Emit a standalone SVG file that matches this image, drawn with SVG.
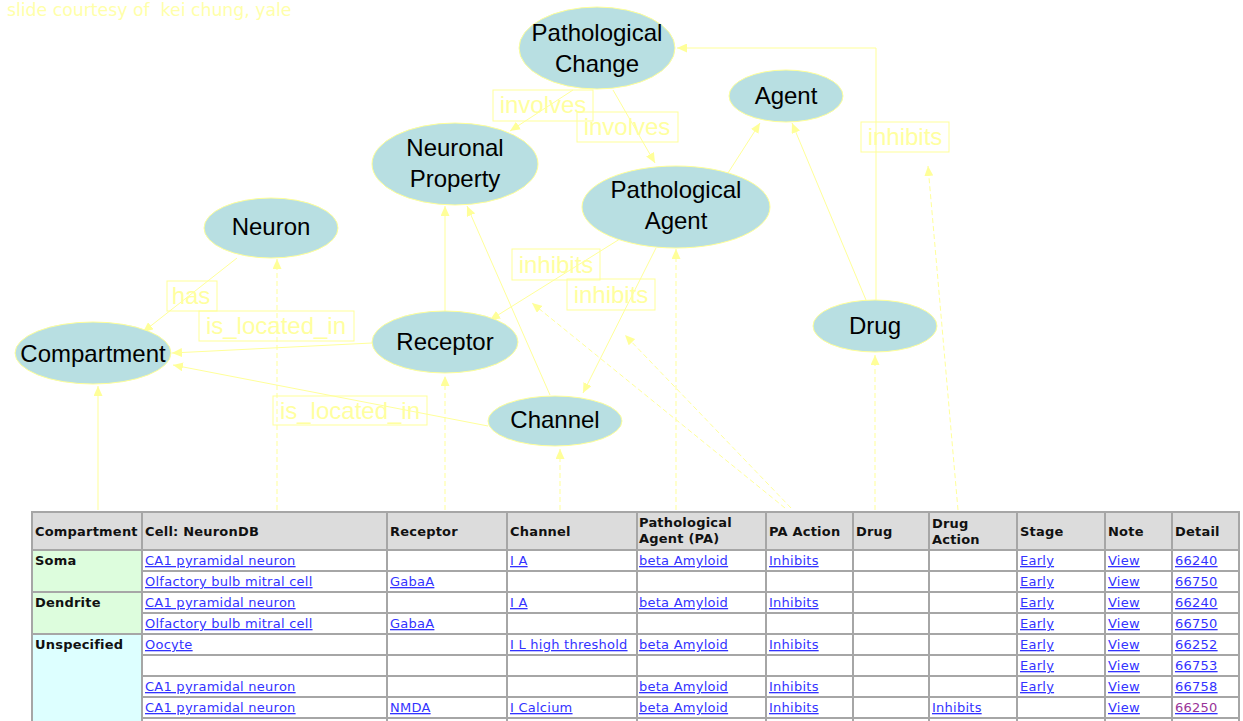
<svg xmlns="http://www.w3.org/2000/svg" width="1243" height="721" viewBox="0 0 1243 721">
<style>
.node ellipse{fill:#b8dfe2;stroke:#ffff99;stroke-width:1}
.node text{font-family:"Liberation Sans",Arial,sans-serif;font-size:24px;fill:#000;text-anchor:middle}
.edge{fill:none;stroke:#ffff99;stroke-width:1}
.dash{stroke-dasharray:5,3}
.lbl rect{fill:none;stroke:#ffff99;stroke-width:1}
.lbl text{font-family:"Liberation Sans",Arial,sans-serif;font-size:24px;fill:#ffffa0;text-anchor:middle}
.th{font-family:"DejaVu Sans",Verdana,sans-serif;font-size:13px;font-weight:bold;fill:#111;letter-spacing:0.2px}
.td{font-family:"DejaVu Sans",Verdana,sans-serif;font-size:13px;fill:#3333ff;text-decoration:underline;letter-spacing:0.25px}
.tv{fill:#993399}
.grid line{stroke:#a6a6a6;stroke-width:2}
</style>
<defs>
<marker id="arr" markerUnits="userSpaceOnUse" markerWidth="10" markerHeight="9" refX="10" refY="4.5" orient="auto">
<path d="M0,0 L10,4.5 L0,9 z" fill="#ffff99"/>
</marker>
</defs>
<rect width="1243" height="721" fill="#fff"/>
<text x="7" y="16" xml:space="preserve" style="font-family:'DejaVu Sans',Verdana,sans-serif;font-size:17.3px;fill:#ffffaa">slide courtesy of  kei chung, yale</text>

<g id="connectors">
<path class="edge" d="M573,90 L510,131" marker-end="url(#arr)"/>
<path class="edge" d="M613,90 L655,163" marker-end="url(#arr)"/>
<path class="edge" d="M876,300 L876,48 L677,48" marker-end="url(#arr)"/>
<path class="edge" d="M728,173 L760,123" marker-end="url(#arr)"/>
<path class="edge" d="M866,300 L792,123" marker-end="url(#arr)"/>
<path class="edge dash" d="M958,510 L928,166" marker-end="url(#arr)"/>
<path class="edge" d="M237,258 L143,332" marker-end="url(#arr)"/>
<path class="edge dash" d="M277,510 L277,259" marker-end="url(#arr)"/>
<path class="edge" d="M372,343 L172,353" marker-end="url(#arr)"/>
<path class="edge" d="M488,426 L173,365" marker-end="url(#arr)"/>
<path class="edge" d="M98,510 L98,386" marker-end="url(#arr)"/>
<path class="edge" d="M445,312 L445,206" marker-end="url(#arr)"/>
<path class="edge" d="M550,395 L467,206" marker-end="url(#arr)"/>
<path class="edge" d="M623,237 L490,320" marker-end="url(#arr)"/>
<path class="edge" d="M656,248 L583,393" marker-end="url(#arr)"/>
<path class="edge dash" d="M445,510 L445,376" marker-end="url(#arr)"/>
<path class="edge dash" d="M560,510 L560,449" marker-end="url(#arr)"/>
<path class="edge dash" d="M676,510 L676,249" marker-end="url(#arr)"/>
<path class="edge dash" d="M785,508 L532,303" marker-end="url(#arr)"/>
<path class="edge dash" d="M791,508 L625,335" marker-end="url(#arr)"/>
<path class="edge dash" d="M875,510 L875,355" marker-end="url(#arr)"/>
</g>

<g id="labels">
<g class="lbl"><rect x="493" y="90" width="100" height="31"/><text x="543" y="113">involves</text></g>
<g class="lbl"><rect x="577" y="112" width="101" height="30"/><text x="627" y="135">involves</text></g>
<g class="lbl"><rect x="861" y="122" width="88" height="30"/><text x="905" y="145">inhibits</text></g>
<g class="lbl"><rect x="167" y="281" width="50" height="30"/><text x="191" y="304">has</text></g>
<g class="lbl"><rect x="199" y="311" width="155" height="30"/><text x="276" y="334">is_located_in</text></g>
<g class="lbl"><rect x="273" y="396" width="154" height="29"/><text x="350" y="419">is_located_in</text></g>
<g class="lbl"><rect x="512" y="249" width="88" height="31"/><text x="556" y="273">inhibits</text></g>
<g class="lbl"><rect x="567" y="279" width="88" height="31"/><text x="611" y="303">inhibits</text></g>
</g>

<g id="n-pathological-change" class="node"><ellipse cx="597" cy="48" rx="78" ry="41"/><text x="597" y="41">Pathological</text><text x="597" y="72">Change</text></g>
<g id="n-agent" class="node"><ellipse cx="786" cy="96" rx="57" ry="26"/><text x="786" y="104">Agent</text></g>
<g id="n-neuronal-property" class="node"><ellipse cx="455" cy="164" rx="83" ry="41"/><text x="455" y="156">Neuronal</text><text x="455" y="187">Property</text></g>
<g id="n-pathological-agent" class="node"><ellipse cx="676" cy="207" rx="94" ry="41"/><text x="676" y="198">Pathological</text><text x="676" y="229">Agent</text></g>
<g id="n-neuron" class="node"><ellipse cx="271" cy="228" rx="67" ry="30"/><text x="271" y="235">Neuron</text></g>
<g id="n-compartment" class="node"><ellipse cx="93" cy="353" rx="78" ry="31"/><text x="93" y="362">Compartment</text></g>
<g id="n-receptor" class="node"><ellipse cx="445" cy="342" rx="73" ry="31"/><text x="445" y="350">Receptor</text></g>
<g id="n-channel" class="node"><ellipse cx="555" cy="421" rx="67" ry="25"/><text x="555" y="428">Channel</text></g>
<g id="n-drug" class="node"><ellipse cx="875" cy="326" rx="62" ry="26"/><text x="875" y="334">Drug</text></g>

<g id="table">
<rect x="32" y="512" width="1207" height="38" fill="#dcdcdc"/>
<rect x="32" y="550" width="110" height="42" fill="#ddfddd"/>
<rect x="32" y="592" width="110" height="42" fill="#ddfddd"/>
<rect x="32" y="634" width="110" height="90" fill="#ddffff"/>
<g class="grid">
<line x1="31" y1="512" x2="1240" y2="512"/>
<line x1="31" y1="550" x2="1240" y2="550"/>
<line x1="31" y1="592" x2="1240" y2="592"/>
<line x1="31" y1="634" x2="1240" y2="634"/>
<line x1="142" y1="571" x2="1240" y2="571"/>
<line x1="142" y1="613" x2="1240" y2="613"/>
<line x1="142" y1="655" x2="1240" y2="655"/>
<line x1="142" y1="676" x2="1240" y2="676"/>
<line x1="142" y1="697" x2="1240" y2="697"/>
<line x1="142" y1="718" x2="1240" y2="718"/>
<line x1="32" y1="511" x2="32" y2="721"/>
<line x1="142" y1="511" x2="142" y2="721"/>
<line x1="387" y1="511" x2="387" y2="721"/>
<line x1="507" y1="511" x2="507" y2="721"/>
<line x1="637" y1="511" x2="637" y2="721"/>
<line x1="766" y1="511" x2="766" y2="721"/>
<line x1="853" y1="511" x2="853" y2="721"/>
<line x1="929" y1="511" x2="929" y2="721"/>
<line x1="1017" y1="511" x2="1017" y2="721"/>
<line x1="1105" y1="511" x2="1105" y2="721"/>
<line x1="1172" y1="511" x2="1172" y2="721"/>
<line x1="1239" y1="511" x2="1239" y2="721"/>
</g>
<g class="th">
<text x="35" y="536">Compartment</text>
<text x="145" y="536">Cell: NeuronDB</text>
<text x="390" y="536">Receptor</text>
<text x="510" y="536">Channel</text>
<text x="639" y="527">Pathological</text>
<text x="639" y="543">Agent (PA)</text>
<text x="769" y="536">PA Action</text>
<text x="856" y="536">Drug</text>
<text x="932" y="528">Drug</text>
<text x="932" y="544">Action</text>
<text x="1020" y="536">Stage</text>
<text x="1108" y="536">Note</text>
<text x="1175" y="536">Detail</text>
<text x="35" y="565">Soma</text>
<text x="35" y="607">Dendrite</text>
<text x="35" y="649">Unspecified</text>
</g>
<g class="td">
<text x="145" y="565">CA1 pyramidal neuron</text>
<text x="510" y="565">I A</text>
<text x="639" y="565">beta Amyloid</text>
<text x="769" y="565">Inhibits</text>
<text x="1020" y="565">Early</text>
<text x="1108" y="565">View</text>
<text x="1175" y="565">66240</text>

<text x="145" y="586">Olfactory bulb mitral cell</text>
<text x="390" y="586">GabaA</text>
<text x="1020" y="586">Early</text>
<text x="1108" y="586">View</text>
<text x="1175" y="586">66750</text>

<text x="145" y="607">CA1 pyramidal neuron</text>
<text x="510" y="607">I A</text>
<text x="639" y="607">beta Amyloid</text>
<text x="769" y="607">Inhibits</text>
<text x="1020" y="607">Early</text>
<text x="1108" y="607">View</text>
<text x="1175" y="607">66240</text>

<text x="145" y="628">Olfactory bulb mitral cell</text>
<text x="390" y="628">GabaA</text>
<text x="1020" y="628">Early</text>
<text x="1108" y="628">View</text>
<text x="1175" y="628">66750</text>

<text x="145" y="649">Oocyte</text>
<text x="510" y="649">I L high threshold</text>
<text x="639" y="649">beta Amyloid</text>
<text x="769" y="649">Inhibits</text>
<text x="1020" y="649">Early</text>
<text x="1108" y="649">View</text>
<text x="1175" y="649">66252</text>

<text x="1020" y="670">Early</text>
<text x="1108" y="670">View</text>
<text x="1175" y="670">66753</text>

<text x="145" y="691">CA1 pyramidal neuron</text>
<text x="639" y="691">beta Amyloid</text>
<text x="769" y="691">Inhibits</text>
<text x="1020" y="691">Early</text>
<text x="1108" y="691">View</text>
<text x="1175" y="691">66758</text>

<text x="145" y="712">CA1 pyramidal neuron</text>
<text x="390" y="712">NMDA</text>
<text x="510" y="712">I Calcium</text>
<text x="639" y="712">beta Amyloid</text>
<text x="769" y="712">Inhibits</text>
<text x="932" y="712">Inhibits</text>
<text x="1108" y="712">View</text>
<text x="1175" y="712" class="tv">66250</text>
</g>
</g>
</svg>
